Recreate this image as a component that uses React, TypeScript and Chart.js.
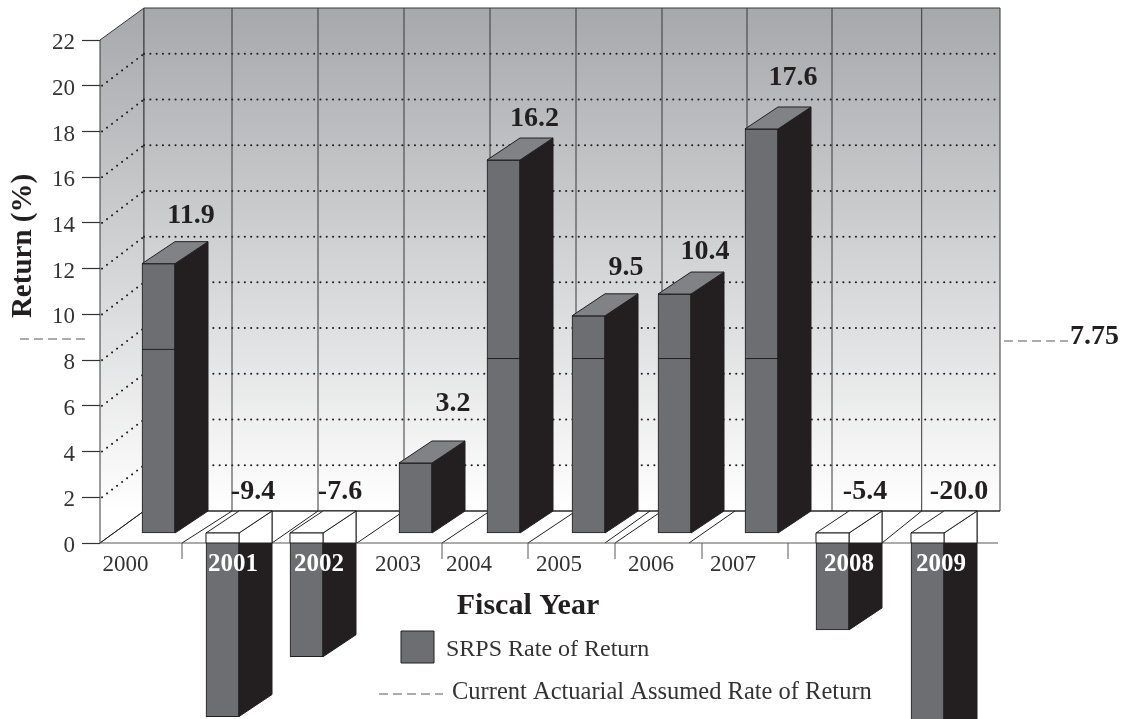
import React, { useEffect, useRef } from "react";
import { Chart, registerables } from "chart.js";

Chart.register(...registerables);

// ---- data
const years = ["2000", "2001", "2002", "2003", "2004", "2005", "2006", "2007", "2008", "2009"];
const returns = [11.9, -9.4, -7.6, 3.2, 16.2, 9.5, 10.4, 17.6, -5.4, -20.0];
const returnLabels = ["11.9", "-9.4", "-7.6", "3.2", "16.2", "9.5", "10.4", "17.6", "-5.4", "-20.0"];
// the original artwork draws its bars out of proportion to their printed values
const drawnLengthFactor = [0.99, 0.854, 0.712, 0.957, 1.007, 1.0, 1.005, 1.004, 0.785, 1.0];
// the thin assumed-rate mark printed across some bars
const assumedMarks = [8.03, null, null, null, 7.63, 7.63, 7.63, 7.63, null, null];
const assumedRate = "7.75";
const yTicks = [0, 22];

// ---- layout of the artwork (pixels, not data)
const FONT = '"Liberation Serif"';
const INK = "#231f20";
const FRONT = "#6d6e71";
const TOPFACE = "#808285";
const LINE = "#38383a";
const DX = 33;
const DY = 22;
const WALL_DX = 44;
const WALL_DY = 32;
const barCentreX = [158.5, 222.5, 306.5, 415.5, 503.5, 588.5, 674.5, 761.5, 832.5, 927.5];
const valueLabelX = [191, 253, 340, 453, 534.5, 626, 705, 793, 865, 959];
const valueLabelY = [216, 492, 492, 404, 119, 268, 252, 78, 492, 492];
const yearLabelX = [125.5, 233, 319, 398, 469, 559, 651, 733, 849, 941];
const wallLinesX = [232, 318, 404, 490, 576, 662, 747, 832, 921.7];
const floorDiagonals = [[182, 232], [272, 318], [357, 404], [442, 490], [528, 576], [605, 650], [615, 662], [689, 735], [882, 921.7]];
const xTickMarks = [182, 442, 528, 615, 702, 788];

function line(ctx: CanvasRenderingContext2D, x1: number, y1: number, x2: number, y2: number) {
  ctx.beginPath();
  ctx.moveTo(x1, y1);
  ctx.lineTo(x2, y2);
  ctx.stroke();
}
function poly(ctx: CanvasRenderingContext2D, pts: number[][], fill: string | CanvasGradient, stroke = INK) {
  ctx.beginPath();
  pts.forEach(([x, y], i) => (i ? ctx.lineTo(x, y) : ctx.moveTo(x, y)));
  ctx.closePath();
  ctx.fillStyle = fill;
  ctx.fill();
  ctx.strokeStyle = stroke;
  ctx.lineWidth = 1;
  ctx.stroke();
}
function text(ctx: CanvasRenderingContext2D, s: string, x: number, y: number, font: string, color = INK, align: CanvasTextAlign = "center") {
  ctx.font = font;
  ctx.fillStyle = color;
  ctx.textAlign = align;
  ctx.textBaseline = "middle";
  ctx.fillText(s, x, y);
}

const scene3d = {
  id: "scene3d",
  afterDatasetsUpdate(chart: any) {
    const meta = chart.getDatasetMeta(0);
    const y2 = chart.scales.y2;
    meta.data.forEach((el: any, i: number) => {
      el.x = barCentreX[i];
      el.y = y2.getPixelForValue(returns[i] * drawnLengthFactor[i]);
      el.base = y2.getPixelForValue(0);
    });
  },
  beforeDatasetsDraw(chart: any) {
    const ctx: CanvasRenderingContext2D = chart.ctx;
    const { left, right, top, bottom } = chart.chartArea;
    const y = chart.scales.y;
    const backL = left + WALL_DX;
    const backT = top - WALL_DY;
    const backB = bottom - WALL_DY;
    ctx.save();
    const g = ctx.createLinearGradient(0, backT, 0, backB);
    g.addColorStop(0, "#a6a8ab");
    g.addColorStop(1, "#ffffff");
    // side wall and back wall
    poly(ctx, [[left, top], [backL, backT], [backL, backB], [left, bottom]], g, LINE);
    poly(ctx, [[backL, backT], [right, backT], [right, backB], [backL, backB]], g, LINE);
    // dotted grid
    ctx.strokeStyle = INK;
    ctx.lineWidth = 2;
    ctx.lineCap = "round";
    ctx.setLineDash([0.1, 6.2]);
    y.ticks.forEach((t: any) => {
      if (t.value === 0 || t.value === 22) return;
      const py = y.getPixelForValue(t.value);
      line(ctx, left + 2, py, backL, py - WALL_DY);
      line(ctx, backL, py - WALL_DY, right, py - WALL_DY);
    });
    ctx.setLineDash([]);
    ctx.lineCap = "butt";
    // wall verticals
    ctx.lineWidth = 1;
    ctx.strokeStyle = LINE;
    wallLinesX.forEach((x) => line(ctx, x, backT, x, backB));
    // floor
    ctx.strokeStyle = INK;
    line(ctx, left, bottom, backL, backB);
    line(ctx, backL, backB, right, backB);
    floorDiagonals.forEach(([a, b]) => line(ctx, a, bottom, b, backB));
    ctx.strokeStyle = "#58595b";
    ctx.lineWidth = 1.2;
    line(ctx, left, bottom, right - 2, bottom);
    ctx.lineWidth = 1;
    xTickMarks.forEach((x) => line(ctx, x, bottom, x, bottom + 16));
    ctx.restore();
  },
  afterDatasetsDraw(chart: any) {
    const ctx: CanvasRenderingContext2D = chart.ctx;
    const { right, bottom } = chart.chartArea;
    const y2 = chart.scales.y2;
    const meta = chart.getDatasetMeta(0);
    ctx.save();
    meta.data.forEach((el: any, i: number) => {
      const half = el.width / 2;
      const l = el.x - half;
      const r = el.x + half;
      if (returns[i] >= 0) {
        poly(ctx, [[r, el.y], [r + DX, el.y - DY], [r + DX, el.base - DY], [r, el.base]], INK);
        poly(ctx, [[l, el.y], [r, el.y], [r + DX, el.y - DY], [l + DX, el.y - DY]], TOPFACE);
      } else {
        poly(ctx, [[r, el.base], [r + DX, el.base - DY], [r + DX, el.y - DY], [r, el.y]], INK);
        // the part above the floor line is drawn open, in white
        poly(ctx, [[r, el.base], [r + DX, el.base - DY], [r + DX, bottom], [r, bottom]], "#ffffff");
        poly(ctx, [[l, el.base], [r, el.base], [r + DX, el.base - DY], [l + DX, el.base - DY]], "#ffffff");
        poly(ctx, [[l, el.base], [r, el.base], [r, bottom], [l, bottom]], "#ffffff");
      }
      const m = assumedMarks[i];
      if (m !== null) {
        ctx.strokeStyle = INK;
        ctx.lineWidth = 1;
        const py = y2.getPixelForValue(m);
        line(ctx, l, py, r, py);
      }
      text(ctx, returnLabels[i], valueLabelX[i], valueLabelY[i], `bold 28px ${FONT}`);
      const negative = returns[i] < 0;
      text(ctx, years[i], yearLabelX[i], 565, negative ? `bold 25px ${FONT}` : `23px ${FONT}`, negative ? "#ffffff" : "#333333");
    });
    // axis titles
    ctx.save();
    ctx.translate(24, 246);
    ctx.rotate(-Math.PI / 2);
    text(ctx, "Return (%)", 0, 0, `bold 29px ${FONT}`);
    ctx.restore();
    text(ctx, "Fiscal Year", 528, 606, `bold 30px ${FONT}`);
    // assumed rate dashes
    ctx.strokeStyle = "#58595b";
    ctx.lineWidth = 1;
    ctx.setLineDash([9, 5]);
    line(ctx, 20, 339, 88, 339);
    line(ctx, right + 4, 341, 1068, 341);
    line(ctx, 379, 694, 443, 694);
    ctx.setLineDash([]);
    text(ctx, assumedRate, 1070, 337, `bold 28px ${FONT}`, INK, "left");
    // legend
    poly(ctx, [[401, 631], [434, 631], [434, 663], [401, 663]], FRONT);
    text(ctx, "SRPS Rate of Return", 446, 650, `24px ${FONT}`, "#333333", "left");
    text(ctx, "Current Actuarial Assumed Rate of Return", 452, 693, `24.5px ${FONT}`, "#333333", "left");
    ctx.restore();
  },
};

export default function App() {
  const ref = useRef<HTMLCanvasElement>(null);
  useEffect(() => {
    document.body.style.margin = "0";
    document.body.style.background = "#ffffff";
    const chart = new Chart(ref.current!, {
      type: "bar",
      data: {
        labels: years,
        datasets: [
          {
            label: "SRPS Rate of Return",
            data: returns,
            yAxisID: "y2",
            backgroundColor: FRONT,
            borderColor: INK,
            borderWidth: 1,
            borderSkipped: false,
            barThickness: 33,
            clip: false,
          } as any,
        ],
      },
      options: {
        animation: false,
        responsive: false,
        layout: { padding: { top: 40, right: 132, bottom: 176, left: 0 } },
        plugins: { legend: { display: false }, tooltip: { enabled: false } },
        scales: {
          x: { display: false },
          y: {
            min: yTicks[0],
            max: yTicks[1],
            position: "left",
            afterFit: (s: any) => {
              s.width = 100;
            },
            border: { display: false },
            grid: { drawOnChartArea: false, drawTicks: true, tickLength: 18, tickColor: "#333333", tickWidth: 1.2 },
            ticks: { stepSize: 2, color: "#333333", padding: 7, labelOffset: 3, font: { family: FONT, size: 23 } },
          },
          y2: { display: false, min: -0.437, max: 21.563 },
        },
      } as any,
      plugins: [scene3d],
    });
    return () => chart.destroy();
  }, []);
  return <canvas ref={ref} width={1132} height={719} style={{ display: "block" }} />;
}
